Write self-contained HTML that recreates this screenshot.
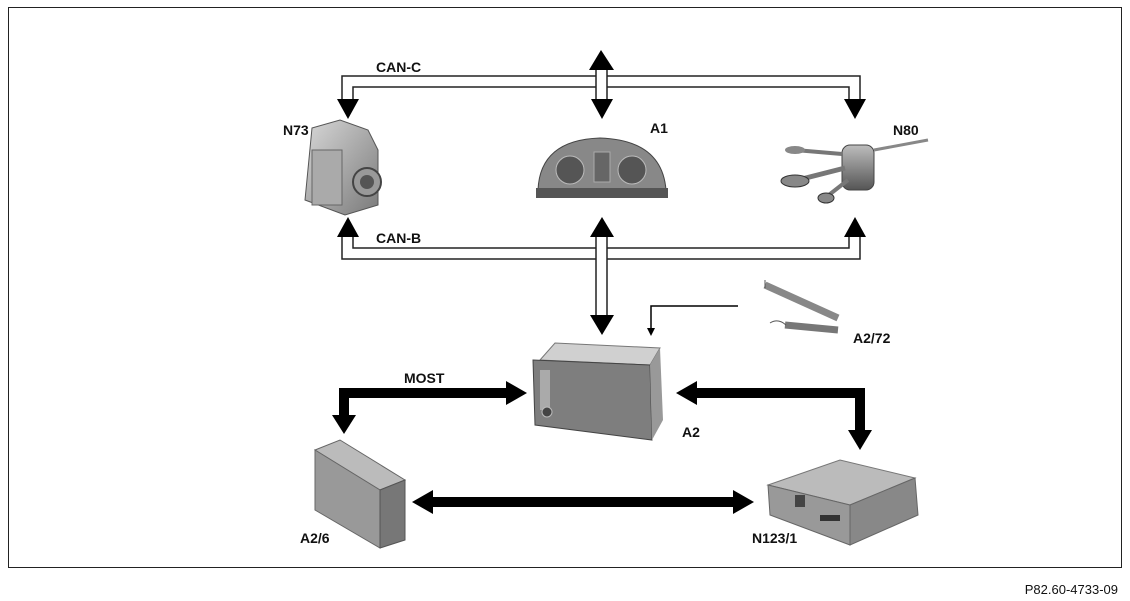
<!DOCTYPE html>
<html><head><meta charset="utf-8"><style>
html,body{margin:0;padding:0;background:#fff}
svg{display:block}
text{font-family:"Liberation Sans",Arial,sans-serif;font-weight:bold;font-size:14px;fill:#111}
</style></head><body>
<svg width="1130" height="601" viewBox="0 0 1130 601">
<defs>
<linearGradient id="g1" x1="0" y1="0" x2="1" y2="1"><stop offset="0" stop-color="#d8d8d8"/><stop offset="1" stop-color="#7a7a7a"/></linearGradient>
<linearGradient id="g2" x1="0" y1="0" x2="0" y2="1"><stop offset="0" stop-color="#bdbdbd"/><stop offset="1" stop-color="#555"/></linearGradient>
</defs>
<rect x="8.5" y="7.5" width="1113" height="560" fill="#fff" stroke="#222" stroke-width="1"/>
<text x="1118" y="594" text-anchor="end" style="font-weight:normal;font-size:13px">P82.60-4733-09</text>

<g fill="none" stroke="#222" stroke-width="1.5">
<path d="M342 100 V76 H596 M607 76 H860 V100"/>
<path d="M353 100 V87 H596 M607 87 H849 V100"/>
<path d="M596 69 V100 M607 69 V100"/>
<path d="M342 237 V259 H596 M607 259 H860 V237"/>
<path d="M353 237 V248 H596 M607 248 H849 V237"/>
<path d="M596 237 V316 M607 237 V316"/>
</g>
<g fill="#000">
<polygon points="337,99 359,99 348,119"/>
<polygon points="591,99 613,99 602,119"/>
<polygon points="844,99 866,99 855,119"/>
<polygon points="589,70 614,70 601,50"/>
<polygon points="337,237 359,237 348,217"/>
<polygon points="590,237 614,237 602,217"/>
<polygon points="844,237 866,237 855,217"/>
<polygon points="590,315 614,315 602,335"/>
<path d="M738 306 H651 V330" fill="none" stroke="#000" stroke-width="1.5"/>
<polygon points="647,328 655,328 651,336"/>
<rect x="339" y="388" width="170" height="10"/>
<rect x="339" y="388" width="10" height="30"/>
<polygon points="332,415 356,415 344,434"/>
<polygon points="506,381 506,405 527,393"/>
<rect x="695" y="388" width="170" height="10"/>
<rect x="855" y="388" width="10" height="44"/>
<polygon points="697,381 697,405 676,393"/>
<polygon points="848,430 872,430 860,450"/>
<rect x="430" y="497" width="306" height="10"/>
<polygon points="433,490 433,514 412,502"/>
<polygon points="733,490 733,514 754,502"/>
</g>

<text x="376" y="72">CAN-C</text>
<text x="376" y="243">CAN-B</text>
<text x="404" y="383">MOST</text>
<text x="283" y="135">N73</text>
<text x="650" y="133">A1</text>
<text x="893" y="135">N80</text>
<text x="853" y="343">A2/72</text>
<text x="682" y="437">A2</text>
<text x="300" y="543">A2/6</text>
<text x="752" y="543">N123/1</text>

<g>
<path d="M312 128 L340 120 L368 130 L378 150 L378 205 L345 215 L305 200 Z" fill="url(#g1)" stroke="#555"/>
<rect x="312" y="150" width="30" height="55" fill="#aaa" stroke="#666"/>
<ellipse cx="367" cy="182" rx="14" ry="14" fill="#999" stroke="#444" stroke-width="2"/>
<ellipse cx="367" cy="182" rx="7" ry="7" fill="#555"/>
</g>
<g>
<path d="M538 190 Q540 140 600 138 Q662 140 666 190 Z" fill="#888" stroke="#444"/>
<rect x="536" y="188" width="132" height="10" fill="#555"/>
<circle cx="570" cy="170" r="14" fill="#555" stroke="#bbb"/>
<circle cx="632" cy="170" r="14" fill="#555" stroke="#bbb"/>
<rect x="594" y="152" width="16" height="30" fill="#666" stroke="#aaa"/>
</g>
<g>
<rect x="842" y="145" width="32" height="45" rx="8" fill="url(#g2)" stroke="#444"/>
<path d="M795 150 L842 154" stroke="#777" stroke-width="4"/>
<ellipse cx="795" cy="150" rx="10" ry="4" fill="#888"/>
<path d="M790 182 L845 168" stroke="#777" stroke-width="5"/>
<ellipse cx="795" cy="181" rx="14" ry="6" fill="#888" stroke="#333"/>
<path d="M825 198 L848 180" stroke="#777" stroke-width="4"/>
<ellipse cx="826" cy="198" rx="8" ry="5" fill="#888" stroke="#333"/>
<path d="M874 150 L928 140" stroke="#888" stroke-width="3"/>
</g>
<g>
<path d="M765 285 L838 318" stroke="#888" stroke-width="7"/>
<path d="M785 325 L838 330" stroke="#777" stroke-width="7"/>
<path d="M765 280 V288 M770 323 Q778 318 786 325" stroke="#555" fill="none"/>
</g>
<g>
<path d="M540 360 L555 343 L660 348 L650 365 Z" fill="#d0d0d0" stroke="#777"/>
<path d="M533 360 L650 365 L652 440 L535 425 Z" fill="#7e7e7e" stroke="#444"/>
<path d="M650 365 L660 348 L663 420 L652 440 Z" fill="#999"/>
<rect x="540" y="370" width="10" height="40" fill="#aaa"/>
<circle cx="547" cy="412" r="5" fill="#444" stroke="#bbb"/>
</g>
<g>
<path d="M315 450 L340 440 L405 480 L380 490 Z" fill="#bbb" stroke="#666"/>
<path d="M315 450 L380 490 L380 548 L315 510 Z" fill="#999" stroke="#666"/>
<path d="M380 490 L405 480 L405 540 L380 548 Z" fill="#777" stroke="#555"/>
</g>
<g>
<path d="M768 485 L840 460 L915 478 L850 505 Z" fill="#bbb" stroke="#777"/>
<path d="M768 485 L850 505 L850 545 L770 515 Z" fill="#999" stroke="#666"/>
<path d="M850 505 L915 478 L918 515 L850 545 Z" fill="#888" stroke="#666"/>
<rect x="795" y="495" width="10" height="12" fill="#444"/>
<rect x="820" y="515" width="20" height="6" fill="#333"/>
</g>
</svg>
</body></html>
